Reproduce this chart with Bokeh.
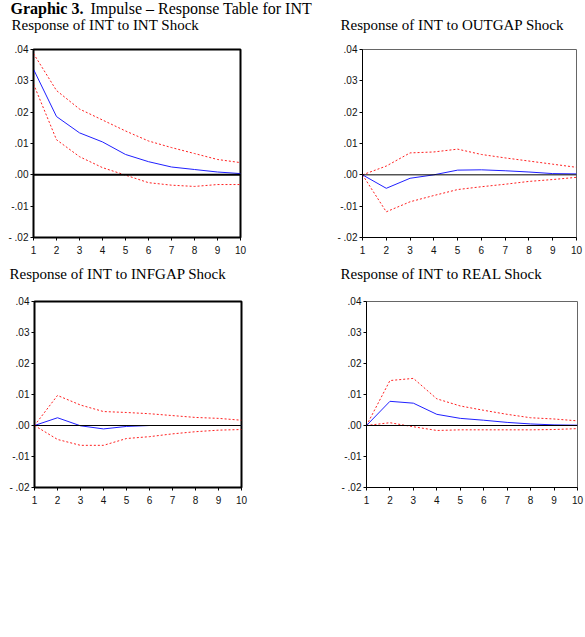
from bokeh.plotting import figure
from bokeh.layouts import column, row
from bokeh.models import Span, FixedTicker, Range1d
from bokeh.core.properties import value
from bokeh.embed import file_html
from bokeh.resources import INLINE

# Forecast horizon (periods)
periods = [1, 2, 3, 4, 5, 6, 7, 8, 9, 10]

# Response of INT to INT shock
int_resp = [0.0337, 0.0186, 0.0134, 0.0105, 0.0065, 0.0042, 0.0025, 0.0017, 0.0009, 0.0004]
int_up = [0.0387, 0.0269, 0.0210, 0.0175, 0.0140, 0.0108, 0.0087, 0.0068, 0.0049, 0.0039]
int_lo = [0.0290, 0.0112, 0.0058, 0.0023, -0.0001, -0.0025, -0.0033, -0.0037, -0.0031, -0.0031]

# Response of INT to OUTGAP shock
outgap_resp = [0.0, -0.0043, -0.0011, 0.0000, 0.0015, 0.0016, 0.0013, 0.0009, 0.0004, 0.0003]
outgap_up = [0.0, 0.0028, 0.0070, 0.0073, 0.0082, 0.0065, 0.0054, 0.0044, 0.0034, 0.0024]
outgap_lo = [0.0, -0.0118, -0.0086, -0.0066, -0.0047, -0.0038, -0.0030, -0.0021, -0.0015, -0.0008]

# Response of INT to INFGAP shock
infgap_resp = [0.0, 0.0025, -0.0001, -0.0011, -0.0003, 0.0000, 0.0000, 0.0000, 0.0000, 0.0000]
infgap_up = [0.0, 0.0097, 0.0066, 0.0045, 0.0042, 0.0038, 0.0032, 0.0026, 0.0023, 0.0017]
infgap_lo = [0.0, -0.0045, -0.0064, -0.0064, -0.0042, -0.0036, -0.0027, -0.0020, -0.0015, -0.0013]

# Response of INT to REAL shock
real_resp = [0.0, 0.0078, 0.0072, 0.0036, 0.0023, 0.0017, 0.0010, 0.0005, 0.0002, 0.0001]
real_up = [0.0, 0.0145, 0.0152, 0.0086, 0.0063, 0.0049, 0.0036, 0.0025, 0.0021, 0.0015]
real_lo = [0.0, 0.0009, -0.0004, -0.0016, -0.0014, -0.0014, -0.0014, -0.0014, -0.0013, -0.0010]

y_ticks = [-0.02, -0.01, 0.0, 0.01, 0.02, 0.03, 0.04]
y_tick_labels = ["- .02", "-.01", ".00", ".01", ".02", ".03", ".04"]

SERIF = "Liberation Serif"
SANS = "Liberation Sans"
PAGE_W = 585


def text_strip(height):
    """A bare strip (no axes, no title) whose frame fills it, used for headings."""
    s = figure(width=PAGE_W, height=height, output_backend="svg", toolbar_location=None,
               x_range=Range1d(0, PAGE_W), y_range=Range1d(height, 0),
               x_axis_location=None, y_axis_location=None, title_location=None,
               min_border_left=0, min_border_right=0, min_border_top=0, min_border_bottom=0)
    s.grid.visible = False
    s.outline_line_color = None
    return s


def panel(resp, up, lo, width, height, left, right, top, bottom,
          frame_width=1, zero_width=1, frame_color="black"):
    p = figure(width=width, height=height, output_backend="svg", toolbar_location=None,
               x_range=Range1d(1, 10), y_range=Range1d(-0.02, 0.04), title_location=None,
               min_border_left=left, min_border_right=right,
               min_border_top=top, min_border_bottom=bottom)
    p.grid.visible = False
    p.background_fill_color = "white"
    p.border_fill_color = "white"
    p.outline_line_color = frame_color
    p.outline_line_width = frame_width

    for ax in (p.xaxis[0], p.yaxis[0]):
        ax.axis_line_color = "black"
        ax.major_tick_line_color = "black"
        ax.minor_tick_line_color = None
        ax.major_tick_out = 3
        ax.major_tick_in = 0
        ax.major_label_text_font = SANS
        ax.major_label_text_font_size = "10px"
        ax.major_label_text_color = "#111111"
        ax.major_label_standoff = 2
    p.xaxis[0].major_label_standoff = 5

    p.xaxis[0].ticker = FixedTicker(ticks=periods)
    p.yaxis[0].ticker = FixedTicker(ticks=y_ticks)
    p.yaxis[0].major_label_overrides = {t: s for t, s in zip(y_ticks, y_tick_labels)}

    p.add_layout(Span(location=0, dimension="width", line_color="black", line_width=zero_width))

    p.line(periods, up, line_color="#ff2020", line_width=1, line_dash="2 2")
    p.line(periods, lo, line_color="#ff2020", line_width=1, line_dash="2 2")
    p.line(periods, resp, line_color="#2020ff", line_width=1)
    return p


# Page heading and the titles of the upper pair of panels
top_strip = text_strip(43)
top_strip.text(x=[10], y=[7.5], text=["Graphic 3."], text_font=value(SERIF),
               text_font_size="16px", text_font_style="bold", text_baseline="alphabetic")
top_strip.text(x=[90], y=[7.5], text=["Impulse \u2013 Response Table for INT"], text_font=value(SERIF),
               text_font_size="16px", text_baseline="alphabetic")
top_strip.text(x=[11, 340], y=[24, 24],
               text=["Response of INT to INT Shock", "Response of INT to OUTGAP Shock"],
               text_font=value(SERIF), text_font_size="15px", text_baseline="alphabetic")

# Titles of the lower pair of panels
mid_strip = text_strip(33)
mid_strip.text(x=[9, 340], y=[11, 11],
               text=["Response of INT to INFGAP Shock", "Response of INT to REAL Shock"],
               text_font=value(SERIF), text_font_size="15px", text_baseline="alphabetic")

p1 = panel(int_resp, int_up, int_lo, 330, 219, 33, 90, 6, 25, frame_width=2, zero_width=2)
p2 = panel(outgap_resp, outgap_up, outgap_lo, 255, 219, 32, 9, 6, 25, frame_color="#666666")
p3 = panel(infgap_resp, infgap_up, infgap_lo, 330, 217, 34, 89, 6, 25, frame_width=2)
p4 = panel(real_resp, real_up, real_lo, 255, 217, 36, 8, 6, 25, frame_color="#666666")

layout = column(top_strip, row(p1, p2, spacing=0), mid_strip, row(p3, p4, spacing=0), spacing=0)

open("out.html", "w").write(file_html(layout, INLINE))
